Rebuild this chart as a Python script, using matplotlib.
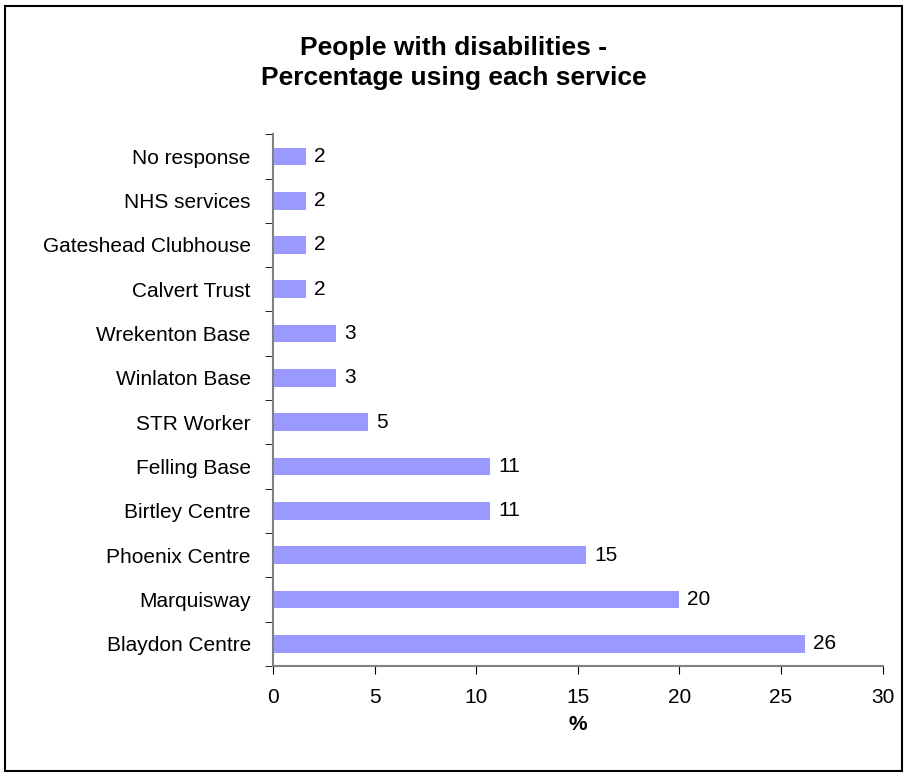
import matplotlib.pyplot as plt
from matplotlib.patches import Rectangle
import numpy as np

plt.rcParams['font.family'] = ['Liberation Sans', 'DejaVu Sans']

# Servicios (de abajo hacia arriba) y porcentaje de uso
servicios = ["Blaydon Centre", "Marquisway", "Phoenix Centre", "Birtley Centre",
             "Felling Base", "STR Worker", "Winlaton Base", "Wrekenton Base",
             "Calvert Trust", "Gateshead Clubhouse", "NHS services", "No response"]
porcentajes = [26.2, 20.0, 15.4, 10.7, 10.7, 4.7, 3.1, 3.1, 1.6, 1.6, 1.6, 1.6]
ticks_x = [0, 5, 10, 15, 20, 25, 30]

fig = plt.figure(figsize=(9.07, 7.76), dpi=100)
ax = fig.add_axes([0.301, 0.142, 0.672, 0.685])

y = np.arange(len(servicios))
ax.barh(y, porcentajes, height=0.4, color="#9999FF")

# Etiquetas con el valor redondeado al final de cada barra
for yi, v in zip(y, porcentajes):
    ax.text(v + 0.4, yi, f"{v:.0f}", va="center", ha="left", fontsize=15)

ax.set_xlim(0, 30)
ax.set_ylim(-0.5, len(servicios) - 0.5)
ax.set_xticks(ticks_x)
ax.set_xticklabels([str(t) for t in ticks_x], fontsize=15)
ax.set_yticks(y)
ax.set_yticklabels(servicios, fontsize=15)
ax.tick_params(axis="y", length=0, pad=16)
ax.set_yticks(np.arange(-0.5, len(servicios), 1), minor=True)
ax.tick_params(axis="y", which="minor", length=6, color="black")
ax.tick_params(axis="x", length=6, pad=10, color="black")
ax.set_xlabel("%", fontsize=15, fontweight="bold", labelpad=6)

for lado in ["top", "right"]:
    ax.spines[lado].set_visible(False)
for lado in ["left", "bottom"]:
    ax.spines[lado].set_color("#808080")
    ax.spines[lado].set_linewidth(1.5)

fig.suptitle("People with disabilities -\nPercentage using each service",
             fontsize=19, fontweight="bold", y=0.954, linespacing=1.35)

# Marco exterior
fig.patches.append(Rectangle((0.006, 0.006), 0.988, 0.986, transform=fig.transFigure,
                             fill=False, edgecolor="black", linewidth=1.5))

fig.savefig("out.png", dpi=100)
